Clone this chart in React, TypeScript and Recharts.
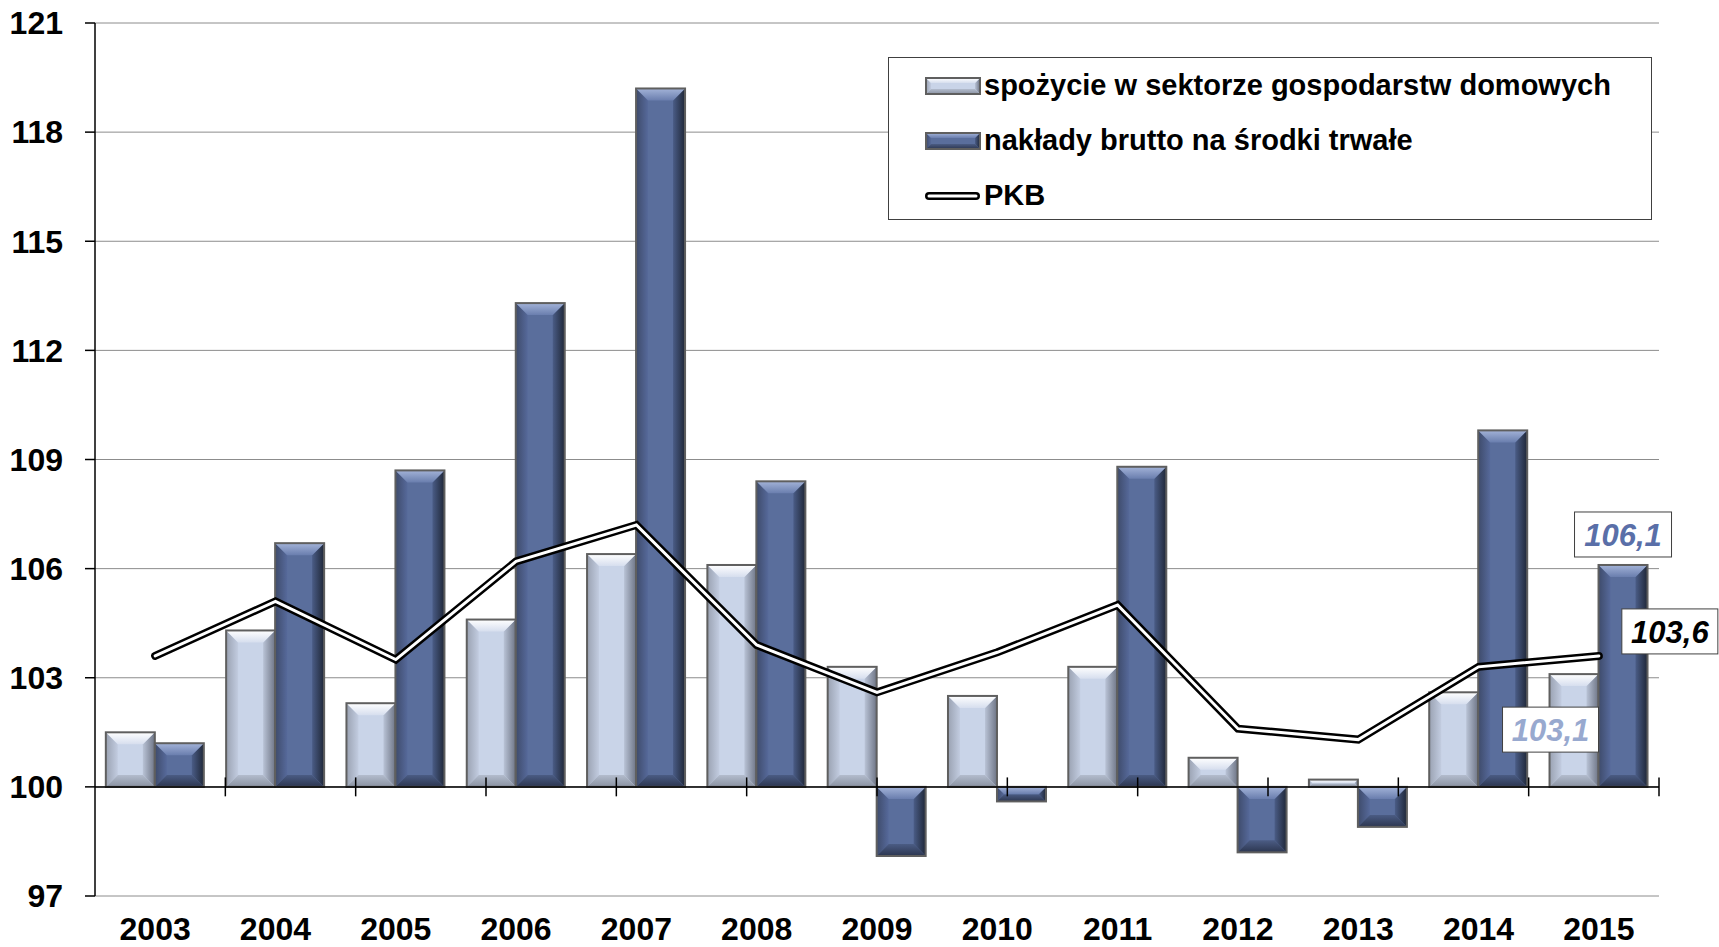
import {
  Bar,
  CartesianGrid,
  ComposedChart,
  LabelList,
  Legend,
  Line,
  ReferenceLine,
  XAxis,
  YAxis,
} from 'recharts'

const years = ['2003', '2004', '2005', '2006', '2007', '2008', '2009', '2010', '2011', '2012', '2013', '2014', '2015']
const consumption = [101.5, 104.3, 102.3, 104.6, 106.4, 106.1, 103.3, 102.5, 103.3, 100.8, 100.2, 102.6, 103.1]
const investment = [101.2, 106.7, 108.7, 113.3, 119.2, 108.4, 98.1, 99.6, 108.8, 98.2, 98.9, 109.8, 106.1]
const gdp = [103.6, 105.1, 103.5, 106.2, 107.2, 103.9, 102.6, 103.7, 105.0, 101.6, 101.3, 103.3, 103.6]
const yTicks = [97, 100, 103, 106, 109, 112, 115, 118, 121]
const BASE = 100

const FONT = '"Liberation Sans", Arial, sans-serif'

const PALETTE = {
  light: { base: '#c9d4e8', text: '#98a9cf' },
  dark: { base: '#5a6e9c', text: '#5a6fa8' },
} as const

type Tone = keyof typeof PALETTE

const last = years.length - 1
const span = (v: number) => (v >= BASE ? [BASE, v] : [v, BASE])

const data = years.map((year, i) => ({
  year,
  consumption: span(consumption[i]),
  investment: span(investment[i]),
  gdp: gdp[i],
  consumptionNote: i === last ? consumption[i] : null,
  investmentNote: i === last ? investment[i] : null,
  gdpNote: i === last ? gdp[i] : null,
}))

// category boundaries for the little tick marks crossing the 100 line
const boundaries = years.map((_, i) => i + 1)

const fmt = (v: number) => v.toFixed(1).replace('.', ',')

function BevelBar(props: any) {
  let { x, y, width: w, height: h } = props
  const tone: Tone = props.tone
  if (h < 0) {
    y += h
    h = -h
  }
  if (!w || h === undefined) return null
  const b = Math.min(props.bevel ?? 12, w / 4, h / 2)
  const p = PALETTE[tone]
  return (
    <g>
      <rect x={x} y={y} width={w} height={h} fill={p.base} />
      <polygon points={`${x},${y} ${x + b},${y + b} ${x + b},${y + h - b} ${x},${y + h}`} fill={`url(#${tone}-left)`} />
      <polygon points={`${x + w},${y} ${x + w},${y + h} ${x + w - b},${y + h - b} ${x + w - b},${y + b}`} fill={`url(#${tone}-right)`} />
      <polygon points={`${x},${y + h} ${x + w},${y + h} ${x + w - b},${y + h - b} ${x + b},${y + h - b}`} fill={`url(#${tone}-bottom)`} />
      <polygon points={`${x},${y} ${x + w},${y} ${x + w - b},${y + b} ${x + b},${y + b}`} fill={`url(#${tone}-top)`} />
      <rect x={x} y={y} width={w} height={h} fill="none" stroke="#5f5f5f" strokeWidth={2} />
    </g>
  )
}

function Gradients() {
  return (
    <defs>
      <linearGradient id="light-top" x1="0" y1="0" x2="0" y2="1">
        <stop offset="0%" stopColor="#ffffff" />
        <stop offset="100%" stopColor="#d6deee" />
      </linearGradient>
      <linearGradient id="light-left" x1="0" y1="0" x2="1" y2="0">
        <stop offset="0%" stopColor="#9aa2b2" />
        <stop offset="100%" stopColor="#c2cce0" />
      </linearGradient>
      <linearGradient id="light-right" x1="0" y1="0" x2="1" y2="0">
        <stop offset="0%" stopColor="#b9c3d6" />
        <stop offset="100%" stopColor="#6e7586" />
      </linearGradient>
      <linearGradient id="light-bottom" x1="0" y1="0" x2="0" y2="1">
        <stop offset="0%" stopColor="#b3bccd" />
        <stop offset="100%" stopColor="#8a92a2" />
      </linearGradient>
      <linearGradient id="dark-top" x1="0" y1="0" x2="0" y2="1">
        <stop offset="0%" stopColor="#a3b3d8" />
        <stop offset="100%" stopColor="#6a7eae" />
      </linearGradient>
      <linearGradient id="dark-left" x1="0" y1="0" x2="1" y2="0">
        <stop offset="0%" stopColor="#3e4b6b" />
        <stop offset="100%" stopColor="#56699a" />
      </linearGradient>
      <linearGradient id="dark-right" x1="0" y1="0" x2="1" y2="0">
        <stop offset="0%" stopColor="#4a5c86" />
        <stop offset="100%" stopColor="#1f2738" />
      </linearGradient>
      <linearGradient id="dark-bottom" x1="0" y1="0" x2="0" y2="1">
        <stop offset="0%" stopColor="#4b5c84" />
        <stop offset="100%" stopColor="#2c3650" />
      </linearGradient>
    </defs>
  )
}

function ValueBox({ left, top, width, color, value }: { left: number; top: number; width: number; color: string; value: number }) {
  return (
    <g>
      <rect x={left} y={top} width={width} height={45} fill="#ffffff" stroke="#404040" strokeWidth={1} />
      <text
        x={left + width / 2}
        y={top + 23}
        dy="0.36em"
        textAnchor="middle"
        fill={color}
        fontFamily={FONT}
        fontSize={31}
        fontStyle="italic"
        fontWeight="bold"
      >
        {fmt(value)}
      </text>
    </g>
  )
}

function LegendContent() {
  const rows = [
    { key: 'c', label: 'spożycie w sektorze gospodarstw domowych', icon: 'light' },
    { key: 'i', label: 'nakłady brutto na środki trwałe', icon: 'dark' },
    { key: 'g', label: 'PKB', icon: 'line' },
  ]
  return (
    <div>
      {rows.map((r) => (
        <div key={r.key} style={{ display: 'flex', alignItems: 'center', height: 55, paddingLeft: 36 }}>
          <svg width={56} height={18} style={{ display: 'block' }}>
            {r.icon === 'line' ? (
              <g>
                <line x1={4} y1={9} x2={51} y2={9} stroke="#000" strokeWidth={8} strokeLinecap="round" />
                <line x1={4} y1={9} x2={51} y2={9} stroke="#fff" strokeWidth={3} strokeLinecap="round" />
              </g>
            ) : (
              <BevelBar x={1} y={1} width={54} height={16} tone={r.icon} bevel={5} />
            )}
          </svg>
          <span style={{ fontFamily: FONT, fontWeight: 'bold', fontSize: 29, color: '#000', marginLeft: 3, lineHeight: 1 }}>
            {r.label}
          </span>
        </div>
      ))}
    </div>
  )
}

const tickStyle = { fill: '#000000', fontSize: 32, fontWeight: 'bold', fontFamily: FONT }

export default function App() {
  return (
    <div style={{ position: 'absolute', left: 0, top: 0, background: '#ffffff' }}>
      <ComposedChart
        width={1719}
        height={947}
        data={data}
        margin={{ top: 23, right: 60, bottom: 0, left: 0 }}
        barCategoryGap="9%"
        barGap={0}
      >
        <Gradients />
        <CartesianGrid horizontal vertical={false} stroke="#8c8c8c" strokeWidth={1} />
        <XAxis
          dataKey="year"
          axisLine={false}
          tickLine={false}
          tickSize={0}
          tickMargin={21}
          height={51}
          tick={tickStyle}
          interval={0}
        />
        <XAxis xAxisId="num" type="number" domain={[0, years.length]} hide />
        <YAxis
          domain={[97, 121]}
          ticks={yTicks}
          interval={0}
          width={95}
          axisLine={{ stroke: '#000000', strokeWidth: 1.5 }}
          tickLine={{ stroke: '#000000', strokeWidth: 1.5 }}
          tickSize={10}
          tickMargin={22}
          tick={tickStyle}
        />
        <ReferenceLine y={BASE} stroke="#000000" strokeWidth={1.5} />
        {boundaries.map((b) => (
          <ReferenceLine
            key={`bound-${b}`}
            xAxisId="num"
            segment={[
              { x: b, y: BASE - 0.26 },
              { x: b, y: BASE + 0.26 },
            ]}
            stroke="#000000"
            strokeWidth={1.5}
          />
        ))}
        <Legend
          layout="vertical"
          align="center"
          verticalAlign="middle"
          content={<LegendContent />}
          wrapperStyle={{
            left: 888,
            top: 57,
            width: 764,
            height: 163,
            border: '1.5px solid #404040',
            background: '#ffffff',
            boxSizing: 'border-box',
          }}
        />
        <Bar
          dataKey="consumption"
          name="spożycie w sektorze gospodarstw domowych"
          isAnimationActive={false}
          shape={(p: any) => <BevelBar {...p} tone="light" />}
        >
          <LabelList
            dataKey="consumptionNote"
            content={(p: any) =>
              p.value == null ? null : (
                <ValueBox left={p.x - 47} top={p.y + 33} width={96} color={PALETTE.light.text} value={p.value} />
              )
            }
          />
        </Bar>
        <Bar
          dataKey="investment"
          name="nakłady brutto na środki trwałe"
          isAnimationActive={false}
          shape={(p: any) => <BevelBar {...p} tone="dark" />}
        >
          <LabelList
            dataKey="investmentNote"
            content={(p: any) =>
              p.value == null ? null : (
                <ValueBox left={p.x + p.width / 2 - 48.5} top={p.y - 53} width={97} color={PALETTE.dark.text} value={p.value} />
              )
            }
          />
        </Bar>
        <Line
          dataKey="gdp"
          name="PKB"
          stroke="#000000"
          strokeWidth={8}
          strokeLinecap="round"
          dot={false}
          activeDot={false}
          isAnimationActive={false}
        />
        <Line
          dataKey="gdp"
          legendType="none"
          stroke="#ffffff"
          strokeWidth={3}
          strokeLinecap="round"
          dot={false}
          activeDot={false}
          isAnimationActive={false}
        >
          <LabelList
            dataKey="gdpNote"
            content={(p: any) =>
              p.value == null ? null : <ValueBox left={p.x + 23} top={p.y - 47} width={96} color="#000000" value={p.value} />
            }
          />
        </Line>
      </ComposedChart>
    </div>
  )
}
